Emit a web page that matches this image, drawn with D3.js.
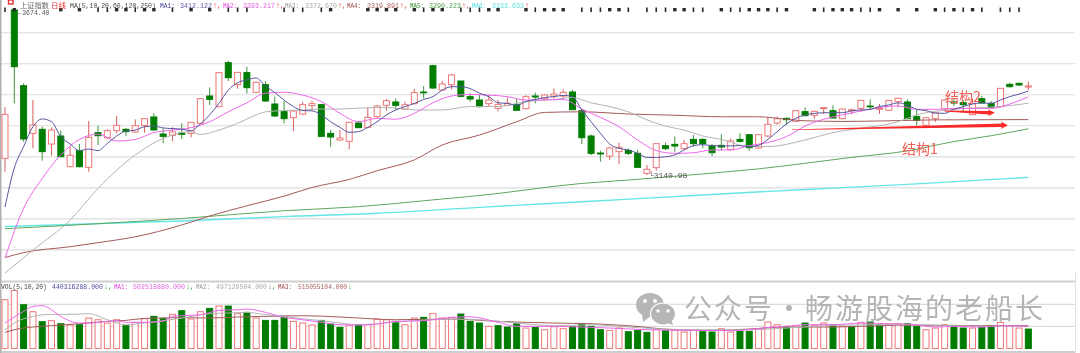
<!DOCTYPE html>
<html>
<head>
<meta charset="utf-8">
<script src="https://cdn.jsdelivr.net/npm/d3@7"></script>
<style>
html, body { margin: 0; padding: 0; background: #fff; overflow: hidden; }
svg { display: block; filter: blur(0.45px); }
</style>
</head>
<body>
<div id="chart"></div>
<script>
// daily candles, one entry per trading day
const open = [3195,3673.4,3429.3,3275.6,3288.5,3241.2,3267,3168.1,3219.7,3166,
  3277.7,3261.6,3284.2,3288.5,3279.9,3301.4,3328.3,3273.5,3269.2,3276.7,
  3275.6,3307.9,3396,3361.6,3503.5,3432.6,3471.3,3407.8,3432.6,3370.2,
  3345.5,3326.1,3338,3364.8,3368.1,3275.6,3254.1,3249.8,3308.9,3295,
  3329.4,3365.9,3376.7,3354.1,3371.3,3408.9,3493.8,3415.4,3432.6,3444.4,
  3393.9,3383.1,3371.3,3356.2,3365.9,3369.1,3355.2,3396,3387.4,3396,
  3396,3408.9,3348.7,3267,3212.2,3202.5,3216.5,3220.8,3211.1,3146.6,
  3164.9,3235.8,3240.1,3226.2,3256.2,3256.2,3234.7,3236.9,3222.9,3256.2,
  3271.3,3228.3,3267,3308.9,3324,3314.3,3345.5,3333.7,3355.2,3348.7,
  3322.9,3348.7,3356.2,3363.7,3353,3349.8,3377.7,3376.7,3329.4,3301.4,
  3322.9,3354.1,3376.7,3374.5,3335.8,3387.4,3372.4,3361.6,3433.6,3436.9,3425];
const close = [3336.9,3490.6,3257.3,3302.5,3216.5,3286.4,3200.4,3204.7,3168.1,3262.7,
  3268,3284.2,3301.4,3281,3300.3,3322.9,3286.4,3265.9,3279.9,3272.4,
  3311.1,3387.4,3385.2,3471.3,3455.1,3472.3,3422.9,3440.1,3379.9,3331.5,
  3322.9,3347.6,3368.1,3371.3,3265.9,3263.8,3260.5,3311.1,3293.9,3327.2,
  3363.7,3381,3365.9,3368.1,3406.7,3406.7,3421.8,3434.7,3463.7,3394.9,
  3386.3,3361.6,3383.1,3369.1,3372.4,3349.8,3393.9,3392.8,3399.2,3402.4,
  3407.8,3351.9,3261.6,3211.1,3209,3228.3,3230.4,3211.1,3166,3159.5,
  3242.3,3226.2,3234.7,3242.3,3242.3,3242.3,3213.3,3231.5,3250.9,3249.8,
  3229.4,3271.3,3304.6,3322.9,3319.7,3348.7,3332.6,3346.6,3358.4,3325,
  3354.1,3351.9,3382,3361.6,3356.2,3382,3388.5,3322.9,3317.5,3326.1,
  3341.2,3383.1,3373.4,3368.1,3372.4,3373.4,3359.4,3420.7,3426.1,3431.5,3428.3];
const high = [3359.4,3674.4,3436.9,3383.1,3297.1,3295,3284.2,3232.6,3241.2,3315.4,
  3300.3,3288.5,3331.5,3292.8,3320.7,3324,3340.1,3291.7,3295,3307.9,
  3312.2,3388.5,3424,3472.3,3510,3473.4,3490.6,3442.2,3444.4,3393.9,
  3379.9,3350.9,3376.7,3379.9,3369.1,3286.4,3286.4,3312.2,3313.2,3359.4,
  3367,3386.3,3388.5,3377.7,3418.6,3428.3,3497.1,3444.4,3466.9,3444.4,
  3404.6,3399.2,3399.2,3383.1,3391.7,3386.3,3398.2,3406.7,3402.4,3420.7,
  3417.5,3415.4,3350.9,3272.4,3219.7,3232.6,3245.5,3227.2,3221.9,3173.5,
  3243.4,3245.5,3264.9,3254.1,3270.2,3259.5,3241.2,3272.4,3259.5,3275.6,
  3272.4,3272.4,3327.2,3329.4,3327.2,3348.7,3359.4,3348.7,3359.4,3365.9,
  3356.2,3355.2,3383.1,3385.2,3370.2,3383.1,3390.6,3385.2,3350.9,3327.2,
  3342.3,3384.2,3388.5,3383.1,3388.5,3396,3379.9,3421.8,3439,3439,3442.2];
const low = [3152,3372.4,3248.7,3227.2,3187.4,3203.6,3198.2,3166,3166,3152,
  3238,3256.3,3275.6,3267,3277.7,3277.7,3284.2,3243.4,3250.9,3257.3,
  3262.7,3305.7,3367,3359.4,3444.4,3419.7,3404.6,3405.7,3376.7,3329.4,
  3307.9,3283.1,3334.7,3348.7,3264.9,3232.6,3251.9,3224,3291.7,3291.7,
  3324,3348.7,3350.9,3350.9,3369.1,3388.5,3418.6,3413.2,3417.5,3391.7,
  3377.7,3359.4,3363.7,3346.6,3363.7,3348.7,3353,3372.4,3381,3387.4,
  3387.4,3350.9,3241.2,3205.7,3184.2,3189.6,3175.6,3205.7,3164.9,3140.98,
  3155.2,3221.9,3216.5,3221.9,3232.6,3227.2,3202.5,3219.7,3220.8,3245.5,
  3219.7,3226.2,3262.7,3303.6,3303.6,3312.2,3330.4,3322.9,3338,3322.9,
  3320.7,3336.9,3344.4,3350.9,3338,3347.6,3359.4,3320.7,3301.4,3299.3,
  3312.2,3348.7,3363.7,3345.5,3333.7,3372.4,3356.2,3359.4,3422.9,3428.3,3415.4];

// volume in millions, days that print as a solid green bar
const volume = [1103,1314,990,832,606,629,561,531,538,689,
  651,576,651,516,591,674,727,674,772,855,
  666,832,907,960,960,787,817,689,636,636,
  727,614,576,531,636,553,478,516,538,538,
  666,651,614,538,689,704,794,689,704,779,
  614,576,501,516,486,561,463,478,425,493,
  448,501,561,501,425,410,463,380,410,365,
  441,403,410,373,410,380,373,448,373,388,
  388,441,599,538,501,516,576,523,576,538,
  501,501,591,599,531,553,561,561,501,425,
  463,538,523,463,463,478,516,591,516,463,440];
const volDown = [2,4,6,8,13,16,17,19,22,24,26,28,29,30,34,35,36,38,42,45,49,50,51,53,54,55,57,
  61,62,63,64,67,68,69,71,75,76,79,80,84,86,89,91,93,94,97,98,102,103,105,106,110];

// price moving averages
const ma1 = [3038,3164,3233,3297,3322,3313,3265,3241,3220,3225,3220,3243,3267,3283,3286,3297,3299,3293,3291,3289,
  3284,3306,3335,3372,3415,3439,3448,3454,3428,3407,3383,3362,3349,3348,3335,3313,3295,3279,3281,3295,
  3313,3335,3351,3362,3372,3385,3394,3415,3426,3426,3420,3405,3394,3374,3372,3366,3378,3385,3391,3394,
  3398,3394,3351,3313,3276,3241,3227,3222,3211,3198,3198,3200,3206,3222,3236,3239,3236,3235,3235,3236,
  3233,3237,3256,3281,3306,3324,3335,3340,3342,3342,3342,3348,3351,3353,3362,3367,3374,3367,3353,3349,
  3341,3340,3353,3362,3370,3374,3372,3383,3394,3402,3412.12];
const ma2Days = d3.range(0, 111, 2);
const ma2 = [2873,3034,3130,3206,3256,3273,3251,3256,3278,3286,3294,3313,3345,3374,3405,3408,3399,3378,3340,3313,
  3324,3321,3340,3374,3396,3401,3399,3394,3383,3383,3385,3354,3327,3297,3254,3220,3211,3213,3222,3222,
  3236,3246,3265,3299,3321,3335,3348,3359,3364,3353,3353,3356,3356,3356,3370,3393.2];
const ma3Days = [0,3,7,10,14,17,19,20,21,23,25,27,28,30,32,34,36,38,41,44,47,50,53,56,59,61,63,65,67,69,71,73,75,77,80,82,86,89,92,96,98,102,105,107,110];
const ma3 = [2825,2899,2996,3098,3206,3259,3278,3281,3272,3286,3308,3335,3345,3349,3351,3354,3354,3357,3359,3351,3351,3362,3362,3378,3385,3391,3374,3362,3345,3319,3299,3286,3267,3256,3233,3233,3254,3278,3292,3313,3335,3353,3359,3362,3372.67];
const ma4Days = [0,2,7,10,14,19,22,26,30,33,37,40,44,47,51,55,58,62,67,72,77,81,84,86,90,95,100,110];
const ma4 = [2875,2891,2910,2923,2942,2980,3009,3042,3073,3101,3127,3155,3190,3238,3270,3313,3343,3345,3338,3334,3329,3329,3321,3316,3314,3316,3319,3319.89];
const ma5Days = [0,19,30,38,46,51,62,67,77,81,86,91,97,102,106,110];
const ma5 = [2968,3001,3026,3039,3061,3075,3114,3125,3150,3161,3179,3198,3219,3249,3268,3290.22];
const ma6Days = [0,19,30,40,51,62,74,85,97,110];
const ma6 = [2975,2993,3007,3018,3037,3055,3075,3093,3111,3133.63];

// volume moving averages, millions
const volMa1Days = [0,2,3,4,5,6,8,9,11,12,13,15,17,18,19,21,23,25,26,28,30,32,34,36,38,40,42,45,48,50,53,55,59,63,65,69,74,78,80,82,84,86,89,92,95,97,100,102,105,107,110];
const volMa1 = [576,840,953,968,877,727,576,576,614,629,591,591,614,727,742,764,862,877,892,817,704,651,591,538,531,553,614,629,704,719,591,501,501,478,463,425,410,403,425,478,501,538,538,576,561,553,486,501,486,516,502.5];
const volMa2Days = [0,1,3,5,7,9,11,13,15,19,22,24,26,28,30,32,34,36,38,42,48,51,55,59,63,66,70,74,80,84,89,94,98,102,106,110];
const volMa2 = [425,576,727,772,772,787,651,538,576,689,787,802,817,764,727,674,629,576,538,599,666,651,576,516,538,501,448,425,425,463,523,538,538,516,501,497.1];
const volMa3Days = [0,1,3,5,8,11,13,15,19,22,25,28,32,36,38,42,48,53,59,63,67,72,76,80,84,89,94,98,102,106,110];
const volMa3 = [365,425,486,516,561,614,636,681,697,689,712,727,742,712,689,651,666,614,576,561,516,425,410,441,486,486,516,531,516,516,515.1];

// marks in the row under the header
const starDays = [1,6,8,12,13,15,16,20,22,35,39,40,41,42,44,46,47,52,53,56,58,59,60,65,66,72,73,77,80,81,82,84,87,89,90,91,94,96,98,100,102,104];
const barDays = [0,10,11,14,18,24,25,26,30,31,32,34,45,49,50,51,57,62,63,64,67,69,70,71,74,75,78,79,83,88,92,93,101,103,105,107,108,109];

const priceTicks = [3600,3500,3400,3300,3200,3100,3000,2900];
const volTicks = [500,1000];

const WIDTH = 1080, HEIGHT = 353;
const RED = "#ee7777", GREEN = "#007d00";
const MONO = "'Liberation Mono', monospace";
const CJK = "'Noto Sans CJK SC', sans-serif";

const days = d3.range(open.length);

const x = d3.scaleBand().domain(days).range([0.35, 1033]).paddingInner(0.25).paddingOuter(0.125);
const y = d3.scaleLinear().domain([3705.6, 2825.2]).range([0, 273]);
const yVol = d3.scaleLinear().domain([0, 1000]).range([348.5, 304.3]);
const cx = i => x(i) + x.bandwidth() / 2;

const svg = d3.select("#chart").append("svg")
  .attr("width", WIDTH)
  .attr("height", HEIGHT);

// grid
function grid(ticks, scale) {
  svg.append("g").selectAll("line")
    .data(ticks)
    .enter().append("line")
    .attr("x1", 1).attr("x2", 1075)
    .attr("y1", d => scale(d)).attr("y2", d => scale(d))
    .attr("stroke", "#dddddd")
    .attr("stroke-width", 1.2);
}
grid(priceTicks, y);
grid(volTicks, yVol);

svg.append("line").attr("x1", 1).attr("x2", 1075).attr("y1", 281.5).attr("y2", 281.5)
  .attr("stroke", "#cfcfcf").attr("stroke-width", 1.8);
svg.append("line").attr("x1", 1).attr("x2", 1075).attr("y1", 352).attr("y2", 352)
  .attr("stroke", "#cfcfcf").attr("stroke-width", 1.8);
svg.append("line").attr("x1", 0.7).attr("x2", 0.7).attr("y1", 0).attr("y2", HEIGHT)
  .attr("stroke", "#b0b0b0").attr("stroke-width", 1.6);
svg.append("line").attr("x1", 1075.5).attr("x2", 1075.5).attr("y1", 273).attr("y2", HEIGHT)
  .attr("stroke", "#e4e4e4");

// candles
const candles = svg.append("g").selectAll("g")
  .data(days)
  .enter().append("g");

candles.append("line")
  .attr("x1", i => cx(i)).attr("x2", i => cx(i))
  .attr("y1", i => y(high[i])).attr("y2", i => y(low[i]))
  .attr("stroke", i => close[i] >= open[i] ? "#d95c5c" : "#3c963c");

candles.append("rect")
  .attr("x", i => x(i) + 0.5)
  .attr("width", x.bandwidth() - 1)
  .attr("y", i => y(Math.max(open[i], close[i])))
  .attr("height", i => Math.max(0.8, Math.abs(y(open[i]) - y(close[i]))))
  .attr("fill", i => close[i] >= open[i] ? "#ffffff" : GREEN)
  .attr("stroke", i => close[i] >= open[i] ? RED : GREEN);

// moving averages
function maLine(daysArr, values, scale, color, w) {
  const line = d3.line().x(d => cx(d[0])).y(d => scale(d[1])).curve(d3.curveMonotoneX);
  svg.append("path")
    .attr("d", line(daysArr.map((d, i) => [d, values[i]])))
    .attr("fill", "none")
    .attr("stroke", color)
    .attr("stroke-width", w);
}
maLine(ma6Days, ma6, y, "#66e6e6", 1.4);
maLine(ma5Days, ma5, y, "#5ea65e", 1);
maLine(ma4Days, ma4, y, "#a45a5a", 1);
maLine(ma3Days, ma3, y, "#b4b4b4", 1);
maLine(ma2Days, ma2, y, "#ee66ee", 1);
maLine(days, ma1, y, "#55559f", 1);

// volume bars
svg.append("g").selectAll("rect")
  .data(days)
  .enter().append("rect")
  .attr("x", i => x(i) + 0.5)
  .attr("width", x.bandwidth() - 1)
  .attr("y", i => yVol(volume[i]))
  .attr("height", i => yVol(0) - yVol(volume[i]))
  .attr("fill", i => volDown.includes(i) ? GREEN : "#ffffff")
  .attr("stroke", i => volDown.includes(i) ? GREEN : RED);

maLine(volMa3Days, volMa3, yVol, "#a45a5a", 1);
maLine(volMa2Days, volMa2, yVol, "#b4b4b4", 1);
maLine(volMa1Days, volMa1, yVol, "#ee66ee", 1);

// marks row
svg.append("g").selectAll("rect")
  .data(starDays)
  .enter().append("rect")
  .attr("x", d => cx(d) - 1.7).attr("y", 8)
  .attr("width", 3.4).attr("height", 3.4)
  .attr("fill", "#2a2a2a");
svg.append("g").selectAll("rect")
  .data(barDays)
  .enter().append("rect")
  .attr("x", d => cx(d) - 0.8).attr("y", 7.5)
  .attr("width", 1.6).attr("height", 4.6)
  .attr("fill", "#2a2a2a");

// header text [label, x, width, colour]
const headerItems = [
  ["上证指数", 20, 29, "#666666"],
  ["日线", 51, 15, "#e83030"],
  ["MA(5,10,20,60,120,250)", 70, 86, "#444444"],
  ["MA1:", 160, 15, "#3a3a90"], ["3412.122", 180, 32, "#5a5aa8"], ["↑,", 213, 8, "#e83030"],
  ["MA2:", 223, 14, "#e040e0"], ["3393.217", 243, 32, "#e060e0"], ["↑,", 276, 8, "#e83030"],
  ["MA3:", 285, 14, "#999999"], ["3372.670", 305, 32, "#aaaaaa"], ["↑,", 338, 8, "#e83030"],
  ["MA4:", 347, 14, "#a04040"], ["3319.891", 367, 32, "#a85a5a"], ["↑,", 400, 8, "#e83030"],
  ["MA5:", 410, 14, "#2f8f2f"], ["3290.223", 429, 32, "#4fa04f"], ["↑,", 462, 8, "#e83030"],
  ["MA6:", 472, 14, "#55dddd"], ["3133.633", 492, 32, "#66e0e0"], ["↑", 525, 4, "#e83030"]
];
const volHeaderItems = [
  ["VOL(5,10,20)", 1, 46, "#444444"],
  ["440316288.000", 52, 51, "#4a4aa0"], ["↓,", 104, 8, "#1f8f1f"],
  ["MA1:", 114, 14, "#e040e0"], ["502518880.000", 133, 52, "#e060e0"], ["↓,", 186, 8, "#1f8f1f"],
  ["MA2:", 196, 14, "#999999"], ["497129504.000", 216, 51, "#aaaaaa"], ["↓,", 268, 8, "#1f8f1f"],
  ["MA3:", 278, 14, "#a04040"], ["515055104.000", 298, 49, "#a85a5a"], ["↓", 348, 4, "#1f8f1f"]
];
// squeeze each piece sideways so its glyphs keep their height in the narrow slot
function headerRow(items, baseline) {
  svg.append("g").selectAll("text")
    .data(items)
    .enter().append("text")
    .attr("fill", d => d[3])
    .style("font-family", d => /[\u4e00-\u9fff]/.test(d[0]) ? CJK : MONO)
    .style("font-size", d => /[\u4e00-\u9fff]/.test(d[0]) ? "6.5px" : "8px")
    .text(d => d[0])
    .attr("transform", function(d) {
      return "translate(" + d[1] + "," + baseline + ") scale(" + (d[2] / this.getComputedTextLength()) + ",1)";
    });
}
headerRow(headerItems, 7.5);
headerRow(volHeaderItems, 288.5);

svg.append("rect").attr("x", 8.5).attr("y", 0).attr("width", 4.5).attr("height", 4)
  .attr("fill", "#fff").attr("stroke", "#e83030").attr("stroke-width", 1.4);

// high / low labels
svg.append("text").attr("x", cx(1) + 4).attr("y", y(3674.4) + 5.3)
  .attr("fill", "#555").style("font-family", MONO).style("font-size", "6.5px")
  .text("←3674.40");
svg.append("text").attr("x", cx(69) + 2).attr("y", y(3140.98) + 3)
  .attr("fill", "#555").style("font-family", MONO).style("font-size", "8px")
  .text("└3140.98");

// hand drawn annotations, tip and tail placed by day and price
const arrows = [
  { from: [84.6, 3287], to: [107.8, 3301.5], tail: 0.3, neck: 1.8, head: 3.8 },
  { from: [101, 3347.5], to: [106.4, 3342], tail: 0.5, neck: 1.7, head: 3.6 }
];
svg.append("g").selectAll("path")
  .data(arrows)
  .enter().append("path")
  .attr("d", a => {
    const x0 = cx(Math.floor(a.from[0])) + (a.from[0] % 1) * x.step();
    const x1 = cx(Math.floor(a.to[0])) + (a.to[0] % 1) * x.step();
    const y0 = y(a.from[1]), y1 = y(a.to[1]);
    return d3.line()([
      [x0, y0 - a.tail], [x1 - 6, y1 - a.neck], [x1 - 7, y1 - a.head], [x1, y1],
      [x1 - 7, y1 + a.head], [x1 - 6, y1 + a.neck], [x0, y0 + a.tail]
    ]) + "Z";
  })
  .attr("fill", "#fb2a2a");

const notes = [
  { text: "结构2", x: 945, y: 102 },
  { text: "结构1", x: 902, y: 154 }
];
svg.append("g").selectAll("text")
  .data(notes)
  .enter().append("text")
  .attr("x", d => d.x).attr("y", d => d.y)
  .attr("fill", "#ef5d55")
  .style("font-family", CJK)
  .style("font-size", "14px")
  .text(d => d.text);

// watermark
const mark = svg.append("g");
mark.append("ellipse").attr("cx", 650).attr("cy", 305).attr("rx", 14).attr("ry", 12).attr("fill", "#b6b6b6");
mark.append("path").attr("d", "M642 314 L643 322 L651 316 Z").attr("fill", "#b6b6b6");
mark.append("circle").attr("cx", 645).attr("cy", 301).attr("r", 2).attr("fill", "#fff");
mark.append("circle").attr("cx", 655).attr("cy", 301).attr("r", 2).attr("fill", "#fff");
mark.append("ellipse").attr("cx", 663).attr("cy", 314).attr("rx", 12.5).attr("ry", 11)
  .attr("fill", "#b6b6b6").attr("stroke", "#fff").attr("stroke-width", 1.2);
mark.append("path").attr("d", "M667 323 L673 325 L671 319 Z").attr("fill", "#b6b6b6");
mark.append("circle").attr("cx", 658).attr("cy", 311).attr("r", 1.7).attr("fill", "#fff");
mark.append("circle").attr("cx", 668).attr("cy", 311).attr("r", 1.7).attr("fill", "#fff");

const wmark = [
  { text: "公众号", x: 684 },
  { text: "·", x: 775 },
  { text: "畅游股海的老船长", x: 805 }
];
svg.append("g").selectAll("text")
  .data(wmark)
  .enter().append("text")
  .attr("x", d => d.x).attr("y", 319)
  .attr("fill", "#b4b4b4")
  .style("font-family", CJK)
  .style("font-size", "28px")
  .style("letter-spacing", d => d.text === "·" ? "0" : "2px")
  .text(d => d.text);
</script>
</body>
</html>
